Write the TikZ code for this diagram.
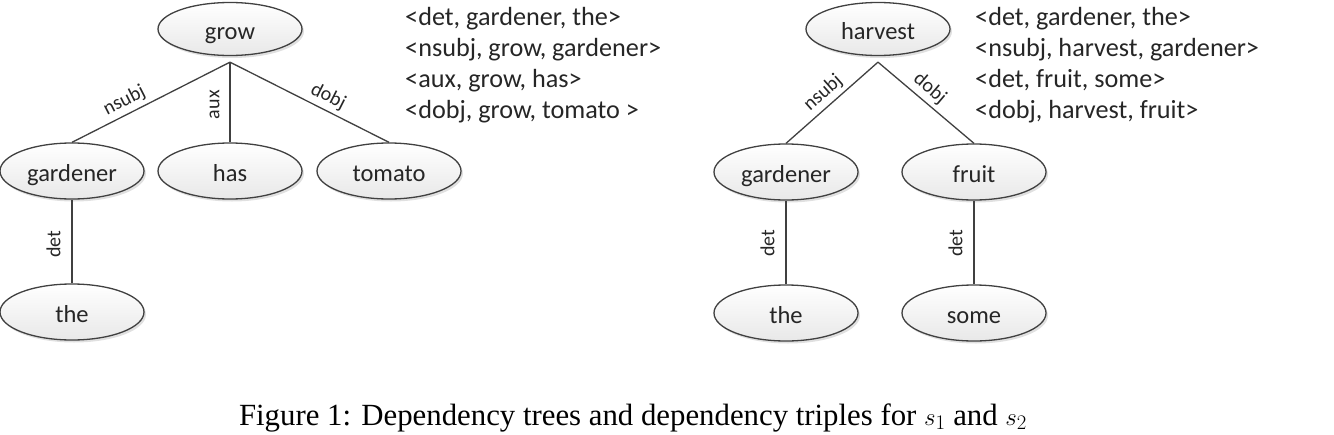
\documentclass[tikz,border=0pt]{standalone}
\usepackage{fontspec}
\setmainfont{Carlito}
\newfontfamily\capfont{Liberation Serif}
\usetikzlibrary{shapes.geometric,shadows}
\definecolor{edgegray}{HTML}{404040}
\definecolor{txtgray}{HTML}{262626}
\begin{document}
\begin{tikzpicture}[x=1pt,y=-1pt,
  word/.style={ellipse, draw=edgegray, line width=1.3pt, top color=white, bottom color=black!9,
    minimum width=144pt, minimum height=56pt, inner sep=0pt,
    font=\fontsize{24.5}{28}\selectfont, text=txtgray, text height=24pt, text depth=4pt,
    general shadow={fill=black!12, shadow xshift=2pt, shadow yshift=-2.5pt}},
  topword/.style={word, minimum height=53pt},
  conn/.style={draw=edgegray, line width=1.3pt},
  rel/.style={font=\fontsize{20}{22}\selectfont, text=txtgray, inner sep=0pt, text depth=0pt, sloped},
  triple/.style={anchor=base west, font=\fontsize{26.2}{30}\selectfont, text=txtgray, inner sep=0pt}]
\path[use as bounding box] (0,0) rectangle (1334,434);

% left tree
\node[topword] (grow) at (230,29) {grow};
\node[word] (gardL) at (72,171) {gardener};
\node[word] (has) at (230,171) {has};
\node[word] (tomato) at (389,171) {tomato};
\node[word] (theL) at (72,312) {the};
\coordinate (hubL) at ([yshift=-6pt]grow.south);
\draw[conn] (hubL) -- node[rel, pos=0.63, above=7.5pt] {nsubj} (gardL.north);
\draw[conn] (has.north) -- node[rel, pos=0.47, above=10pt] {aux} (hubL);
\draw[conn] (hubL) -- node[rel, pos=0.58, above=7.5pt] {dobj} (tomato.north);
\draw[conn] (theL.north) -- node[rel, pos=0.47, above=11pt] {det} (gardL.south);

% right tree
\node[topword] (harvest) at (878,29) {harvest};
\node[word] (gardR) at (786,172) {gardener};
\node[word] (fruit) at (974,172) {fruit};
\node[word] (theR) at (786,313) {the};
\node[word] (some) at (974,313) {some};
\coordinate (hubR) at ([yshift=-6pt]harvest.south);
\draw[conn] (hubR) -- node[rel, pos=0.5, above=7.5pt] {nsubj} (gardR.north);
\draw[conn] (hubR) -- node[rel, pos=0.45, above=7.5pt] {dobj} (fruit.north);
\draw[conn] (theR.north) -- node[rel, pos=0.49, above=11pt] {det} (gardR.south);
\draw[conn] (some.north) -- node[rel, pos=0.49, above=11pt] {det} (fruit.south);

% triples
\node[triple] (la) at (405,25) {<det, gardener, the>};
\node[triple] (lb) at (405,56) {<nsubj, grow, gardener>};
\node[triple] (lc) at (405,87) {<aux, grow, has>};
\node[triple] (ld) at (405,118) {<dobj, grow, tomato >};
\node[triple] (ra) at (975,25) {<det, gardener, the>};
\node[triple] (rb) at (975,56) {<nsubj, harvest, gardener>};
\node[triple] (rc) at (975,87) {<det, fruit, some>};
\node[triple] (rd) at (975,118) {<dobj, harvest, fruit>};

% caption
\node[anchor=base, inner sep=0pt, font=\capfont\fontsize{30.8}{34}\selectfont] (cap) at (633,425)
  {Figure 1: Dependency trees and dependency triples for $s_1$ and $s_2$};
\end{tikzpicture}
\end{document}
